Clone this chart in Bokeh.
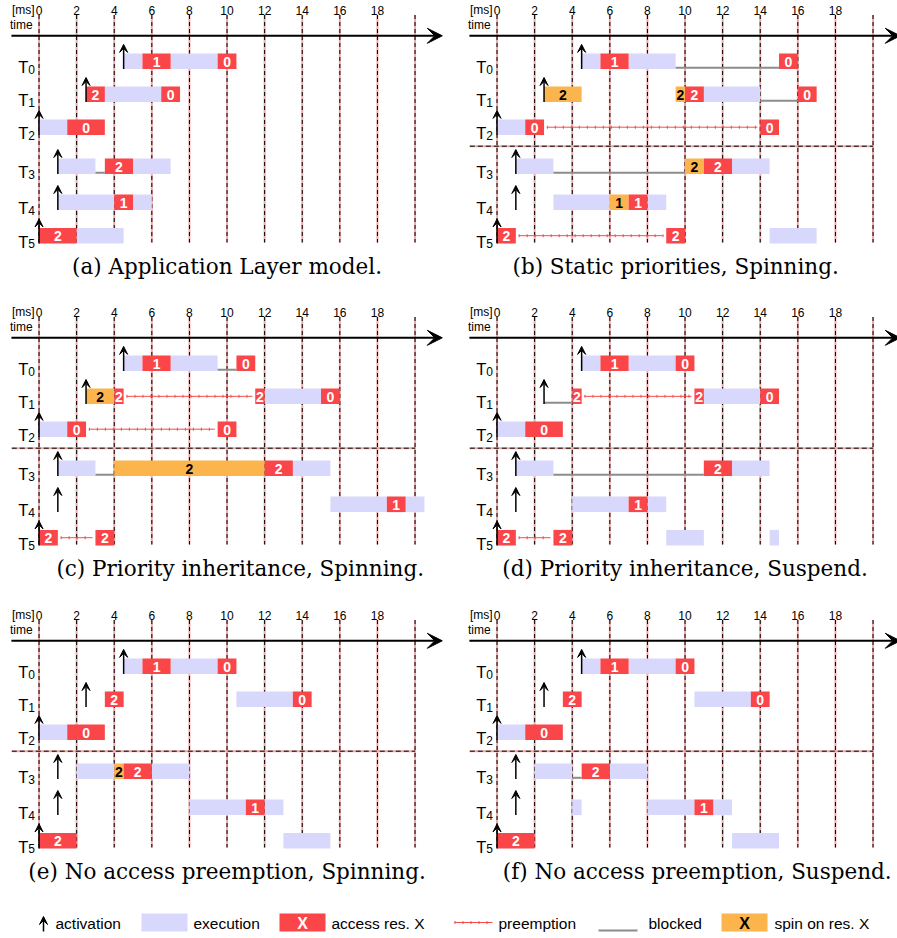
from bokeh.plotting import figure
from bokeh.layouts import column, row
from bokeh.models import Range1d, ColumnDataSource, Arrow, VeeHead
from bokeh.core.properties import value
from bokeh.embed import file_html
from bokeh.resources import INLINE

# ---------------- data (times in ms) ----------------
TASKS = ["0", "1", "2", "3", "4", "5"]
TICKS = [0, 2, 4, 6, 8, 10, 12, 14, 16, 18]
GRID = [0, 2, 4, 6, 8, 10, 12, 14, 16, 18, 20]

CAPTIONS = ["(a) Application Layer model.",
            "(b) Static priorities, Spinning.",
            "(c) Priority inheritance, Spinning.",
            "(d) Priority inheritance, Suspend.",
            "(e) No access preemption, Spinning.",
            "(f) No access preemption, Suspend."]

# activation instants: (task, time)
ACT = [(0, 4.5), (1, 2.5), (2, 0), (3, 1), (4, 1), (5, 0)]

# (a) Application Layer model
a_exec = [(0, 4.5, 5.5), (0, 7, 9.5), (1, 3.5, 6.5), (2, 0, 1.5), (3, 1, 3), (3, 5, 7),
          (4, 1, 4), (4, 5, 6), (5, 2, 4.5)]
a_access = [(0, 5.5, 7, "1"), (0, 9.5, 10.5, "0"), (1, 2.5, 3.5, "2"), (1, 6.5, 7.5, "0"),
            (2, 1.5, 3.5, "0"), (3, 3.5, 5, "2"), (4, 4, 5, "1"), (5, 0, 2, "2")]
a_spin = []
a_block = [(3, 3, 3.5)]
a_preempt = []

# (b) Static priorities, Spinning
b_exec = [(0, 4.5, 5.5), (0, 7, 9.5), (1, 11, 14), (2, 0, 1.5), (3, 1, 3), (3, 12.5, 14.5),
          (4, 3, 6), (4, 8, 9), (5, 14.5, 17)]
b_access = [(0, 5.5, 7, "1"), (0, 15, 16, "0"), (1, 10, 11, "2"), (1, 16, 17, "0"),
            (2, 1.5, 2.5, "0"), (2, 14, 15, "0"), (3, 11, 12.5, "2"), (4, 7, 8, "1"),
            (5, 0, 1, "2"), (5, 9, 10, "2")]
b_spin = [(1, 2.5, 4.5, "2"), (1, 9.5, 10, "2"), (3, 10, 11, "2"), (4, 6, 7, "1")]
b_block = [(0, 9.5, 15), (1, 14, 16), (3, 3, 10)]
b_preempt = [(2, 2.5, 14), (5, 1, 9)]

# (c) Priority inheritance, Spinning
c_exec = [(0, 4.5, 5.5), (0, 7, 9.5), (1, 12, 15), (2, 0, 1.5), (3, 1, 3), (3, 13.5, 15.5),
          (4, 15.5, 18.5), (4, 19.5, 20.5)]
c_access = [(0, 5.5, 7, "1"), (0, 10.5, 11.5, "0"), (1, 4, 4.5, "2"), (1, 11.5, 12, "2"),
            (1, 15, 16, "0"), (2, 1.5, 2.5, "0"), (2, 9.5, 10.5, "0"), (3, 12, 13.5, "2"),
            (4, 18.5, 19.5, "1"), (5, 0, 1, "2"), (5, 3, 4, "2")]
c_spin = [(1, 2.5, 4, "2"), (3, 4, 12, "2")]
c_block = [(0, 9.5, 10.5), (3, 3, 4)]
c_preempt = [(1, 4.5, 11.5), (2, 2.5, 9.5), (5, 1, 3)]

# (d) Priority inheritance, Suspend
d_exec = [(0, 4.5, 5.5), (0, 7, 9.5), (1, 11, 14), (2, 0, 1.5), (3, 1, 3), (3, 12.5, 14.5),
          (4, 4, 7), (4, 8, 9), (5, 9, 11), (5, 14.5, 15)]
d_access = [(0, 5.5, 7, "1"), (0, 9.5, 10.5, "0"), (1, 4, 4.5, "2"), (1, 10.5, 11, "2"),
            (1, 14, 15, "0"), (2, 1.5, 3.5, "0"), (3, 11, 12.5, "2"), (4, 7, 8, "1"),
            (5, 0, 1, "2"), (5, 3, 4, "2")]
d_spin = []
d_block = [(1, 2.5, 4), (3, 3, 11)]
d_preempt = [(1, 4.5, 10.5), (5, 1, 3)]

# (e) No access preemption, Spinning
e_exec = [(0, 4.5, 5.5), (0, 7, 9.5), (1, 10.5, 13.5), (2, 0, 1.5), (3, 2, 4), (3, 6, 8),
          (4, 8, 11), (4, 12, 13), (5, 13, 15.5)]
e_access = [(0, 5.5, 7, "1"), (0, 9.5, 10.5, "0"), (1, 3.5, 4.5, "2"), (1, 13.5, 14.5, "0"),
            (2, 1.5, 3.5, "0"), (3, 4.5, 6, "2"), (4, 11, 12, "1"), (5, 0, 2, "2")]
e_spin = [(3, 4, 4.5, "2")]
e_block = []
e_preempt = []

# (f) No access preemption, Suspend
f_exec = [(0, 4.5, 5.5), (0, 7, 9.5), (1, 10.5, 13.5), (2, 0, 1.5), (3, 2, 4), (3, 6, 8),
          (4, 4, 4.5), (4, 8, 10.5), (4, 11.5, 12.5), (5, 12.5, 15)]
f_access = [(0, 5.5, 7, "1"), (0, 9.5, 10.5, "0"), (1, 3.5, 4.5, "2"), (1, 13.5, 14.5, "0"),
            (2, 1.5, 3.5, "0"), (3, 4.5, 6, "2"), (4, 10.5, 11.5, "1"), (5, 0, 2, "2")]
f_spin = []
f_block = [(3, 4, 4.5)]
f_preempt = []

LEGEND_LABELS = ["activation", "execution", "access res. X", "preemption", "blocked", "spin on res. X"]

# ---------------- style / layout ----------------
EXEC_C = "#d8d8fc"
ACC_C = "#fa4549"
SPIN_C = "#fcb54d"
BLOCK_C = "#8c8c8c"
PRE_C = "#f54a4a"
GRID_PINK = "#eeaaaa"
SANS = "Liberation Sans"
SERIF = "DejaVu Serif"

PX_PER_MS = 18.8
X0 = -2.05
ROW_Y = [60.7, 93.8, 126.7, 165.8, 201.8, 235.2]
HALF = 7.8
CAP_X = [10.0, 9.5, 10.7, 10.0, 10.0, 10.65]


def txt(p, x, y, t, size, color="black", align="left", baseline="middle", font=SANS, style="normal"):
    p.text(x=x, y=y, text=t, text_font=value(font), text_font_size=value(size),
           text_color=color, text_align=align, text_baseline=baseline, text_font_style=style)


def base_fig(width, height, xr):
    p = figure(width=width, height=height, x_range=xr, y_range=Range1d(height, 0),
               output_backend="svg", toolbar_location=None,
               x_axis_location=None, y_axis_location=None, min_border=0)
    p.outline_line_color = None
    p.xgrid.visible = False
    p.ygrid.visible = False
    p.border_fill_color = "white"
    return p


def panel(idx, width, height, exe, acc, spin, block, pre, sep):
    p = base_fig(width, height, Range1d(X0, X0 + width / PX_PER_MS))

    # vertical time lines
    p.segment(x0=GRID, y0=[14.5] * len(GRID), x1=GRID, y1=[242] * len(GRID),
              line_color=GRID_PINK, line_width=2)
    p.segment(x0=GRID, y0=[14.5] * len(GRID), x1=GRID, y1=[242] * len(GRID),
              line_color="black", line_width=1, line_dash="4 3")
    if sep:
        p.segment(x0=[-1.45], y0=[145.7], x1=[20], y1=[145.7], line_color=GRID_PINK, line_width=2)
        p.segment(x0=[-1.45], y0=[145.7], x1=[20], y1=[145.7], line_color="black",
                  line_width=1, line_dash="5 3")

    # time axis arrow
    p.add_layout(Arrow(end=VeeHead(size=15, fill_color="black", line_color="black"),
                       x_start=-1.47, y_start=35.3, x_end=21.45, y_end=35.3,
                       line_width=2, line_color="black"))

    # tick labels
    txt(p, TICKS, [9.5] * len(TICKS), [str(t) for t in TICKS], "12px", align="center")
    txt(p, [-1.44], [9.5], ["[ms]"], "12px")
    txt(p, [-1.55], [24.5], ["time"], "12px")

    # task labels
    txt(p, [-1.1] * 6, [y + 5.8 for y in ROW_Y], ["T"] * 6, "16.5px", baseline="alphabetic")
    txt(p, [-0.57] * 6, [y + 7.8 for y in ROW_Y], TASKS, "12px", baseline="alphabetic")

    def bars(items, color):
        if not items:
            return
        p.quad(left=[b[1] for b in items], right=[b[2] for b in items],
               top=[ROW_Y[b[0]] - HALF for b in items], bottom=[ROW_Y[b[0]] + HALF for b in items],
               fill_color=color, line_color=None)

    bars(exe, EXEC_C)
    bars(spin, SPIN_C)
    bars(acc, ACC_C)

    if acc:
        txt(p, [(b[1] + b[2]) / 2 for b in acc], [ROW_Y[b[0]] + 0.5 for b in acc],
            [b[3] for b in acc], "14px", color="white", align="center", style="bold")
    if spin:
        txt(p, [(b[1] + b[2]) / 2 for b in spin], [ROW_Y[b[0]] + 0.5 for b in spin],
            [b[3] for b in spin], "14px", color="black", align="center", style="bold")

    if block:
        p.segment(x0=[b[1] for b in block], y0=[ROW_Y[b[0]] + 6.5 for b in block],
                  x1=[b[2] for b in block], y1=[ROW_Y[b[0]] + 6.5 for b in block],
                  line_color=BLOCK_C, line_width=2)
    if pre:
        xs0 = [b[1] + 0.15 for b in pre]
        xs1 = [b[2] - 0.15 for b in pre]
        ys = [ROW_Y[b[0]] for b in pre]
        p.segment(x0=xs0, y0=ys, x1=xs1, y1=ys, line_color=PRE_C, line_width=1)
        p.segment(x0=xs0, y0=ys, x1=xs1, y1=ys, line_color=PRE_C, line_width=3, line_dash="1 7")

    # activation arrows
    src = ColumnDataSource(dict(x=[a[1] for a in ACT],
                                y0=[ROW_Y[a[0]] + HALF for a in ACT],
                                y1=[ROW_Y[a[0]] - HALF - 9 for a in ACT]))
    p.add_layout(Arrow(end=VeeHead(size=8, fill_color="black", line_color="black", line_width=1),
                       x_start="x", y_start="y0", x_end="x", y_end="y1", source=src,
                       line_width=1.5, line_color="black"))

    # caption
    txt(p, [CAP_X[idx]], [265.5], [CAPTIONS[idx]], "21.5px", align="center", font=SERIF)
    return p


LW, RW = 458, 439
pa = panel(0, LW, 302, a_exec, a_access, a_spin, a_block, a_preempt, False)
pb = panel(1, RW, 302, b_exec, b_access, b_spin, b_block, b_preempt, True)
pc = panel(2, LW, 303, c_exec, c_access, c_spin, c_block, c_preempt, True)
pd = panel(3, RW, 303, d_exec, d_access, d_spin, d_block, d_preempt, True)
pe = panel(4, LW, 290, e_exec, e_access, e_spin, e_block, e_preempt, True)
pf = panel(5, RW, 290, f_exec, f_access, f_spin, f_block, f_preempt, True)

# ---------------- legend ----------------
LH = 43
leg = base_fig(LW + RW, LH, Range1d(0, LW + RW))
leg.add_layout(Arrow(end=VeeHead(size=8, fill_color="black", line_color="black", line_width=1),
                     x_start=43, y_start=36, x_end=43, y_end=21, line_width=1.5, line_color="black"))
leg.quad(left=[141], right=[187], top=[18], bottom=[36], fill_color=EXEC_C, line_color=None)
leg.quad(left=[279], right=[325], top=[18], bottom=[36], fill_color=ACC_C, line_color=None)
leg.quad(left=[721], right=[767], top=[18], bottom=[36], fill_color=SPIN_C, line_color=None)
txt(leg, [302], [27.5], ["X"], "16px", color="white", align="center", style="bold")
txt(leg, [744], [27.5], ["X"], "16px", color="black", align="center", style="bold")
leg.segment(x0=[454], y0=[27], x1=[492], y1=[27], line_color=PRE_C, line_width=1)
leg.segment(x0=[454], y0=[27], x1=[492], y1=[27], line_color=PRE_C, line_width=3, line_dash="1 7")
leg.segment(x0=[598], y0=[35], x1=[637], y1=[35], line_color=BLOCK_C, line_width=2)
txt(leg, [55, 193, 331, 498, 648, 774], [28] * 6, LEGEND_LABELS, "15.5px")

layout = column(row(pa, pb), row(pc, pd), row(pe, pf), leg)
open("out.html", "w").write(file_html(layout, INLINE))
